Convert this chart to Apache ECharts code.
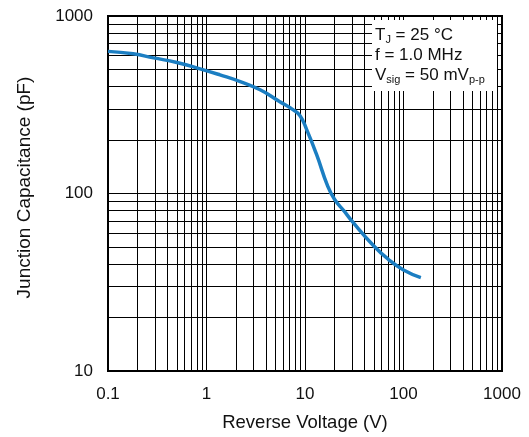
<!DOCTYPE html>
<html>
<head>
<meta charset="utf-8">
<script src="https://cdn.jsdelivr.net/npm/echarts@6/dist/echarts.min.js"></script>
<style>html,body{margin:0;padding:0;background:#fff}#c{width:529px;height:437px}</style>
</head>
<body>
<div id="c"></div>
<script>
// Reverse voltage (V) and junction capacitance (pF)
var voltage = [0.1, 0.18, 0.29, 0.5, 0.86, 1.37, 2.2, 3.5, 5.5, 7.6, 8.9, 10.4, 13.1, 17, 20, 25, 30, 50, 70, 100, 150];
var capacitance = [632, 612, 581, 547, 504, 466, 427, 384, 330, 296, 274, 229, 166, 110, 92.5, 79.5, 69.9, 50.6, 42.6, 37.1, 33.6];

// Axis decades (tick labels) and minor multipliers for the log grid
var xTicks = [0.1, 1, 10, 100, 1000];
var yTicks = [10, 100, 1000];
var minorSteps = [2, 3, 4, 5, 6, 7, 8, 9];

function gridValues(ticks) {
  var out = [];
  for (var i = 0; i < ticks.length; i++) {
    out.push(ticks[i]);
    if (i < ticks.length - 1) {
      for (var j = 0; j < minorSteps.length; j++) out.push(+(ticks[i] * minorSteps[j]).toPrecision(6));
    }
  }
  return out;
}
var xGrid = gridValues(xTicks);
var yGrid = gridValues(yTicks);

var FONT = 'Liberation Sans, Arial, sans-serif';
var chart = echarts.init(document.getElementById('c'));
var fmt = function (v) { return String(+(+v).toPrecision(6)); };

var option = {
  animation: false,
  backgroundColor: '#fff',
  grid: { left: 108, right: 27, top: 16, bottom: 65, show: true, borderColor: '#000', borderWidth: 2, backgroundColor: 'transparent' },
  xAxis: {
    type: 'log', logBase: 10, min: xTicks[0], max: xTicks[xTicks.length - 1],
    name: 'Reverse Voltage (V)', nameLocation: 'middle', nameGap: 42,
    nameTextStyle: { fontFamily: FONT, fontSize: 18.5, color: '#111' },
    axisLine: { show: false }, axisTick: { show: false }, splitLine: { show: false },
    axisLabel: { formatter: fmt, fontFamily: FONT, fontSize: 17, color: '#111', margin: 15 }
  },
  yAxis: {
    type: 'log', logBase: 10, min: yTicks[0], max: yTicks[yTicks.length - 1],
    name: 'Junction Capacitance (pF)', nameLocation: 'middle', nameGap: 74,
    nameTextStyle: { fontFamily: FONT, fontSize: 19, color: '#111', padding: [0, 0, 0, 12] },
    axisLine: { show: false }, axisTick: { show: false }, splitLine: { show: false },
    axisLabel: { formatter: fmt, fontFamily: FONT, fontSize: 17, color: '#111', margin: 15 }
  },
  graphic: [
    { type: 'rect', z: 100, shape: { x: 372, y: 20, width: 125, height: 71 }, style: { fill: '#fff' } },
    {
      type: 'text', z: 101, x: 375, y: 25,
      style: {
        text: '{m|T}{s|J}{m| = 25 °C}\n{m|f = 1.0 MHz}\n{m|V}{s|sig}{m| = 50 mV}{s|p-p}',
        fill: '#111', font: '17px ' + FONT,
        rich: {
          m: { fontSize: 17, fontFamily: FONT, lineHeight: 20, fill: '#111' },
          s: { fontSize: 11, fontFamily: FONT, lineHeight: 11, verticalAlign: 'bottom', fill: '#111' }
        }
      }
    }
  ],
  series: [
    {
      type: 'line', data: [], silent: true, z: 1,
      markLine: {
        silent: true, symbol: 'none', label: { show: false },
        lineStyle: { color: '#000', width: 1, type: 'solid' },
        emphasis: { disabled: true },
        data: xGrid.map(function (v) { return { xAxis: v }; }).concat(yGrid.map(function (v) { return { yAxis: v }; }))
      }
    },
    {
      type: 'line', z: 10, smooth: 0.5, showSymbol: false, silent: true,
      lineStyle: { color: '#1b7ec2', width: 3.5 },
      data: voltage.map(function (v, i) { return [v, capacitance[i]]; })
    }
  ]
};
chart.setOption(option);
</script>
</body>
</html>
